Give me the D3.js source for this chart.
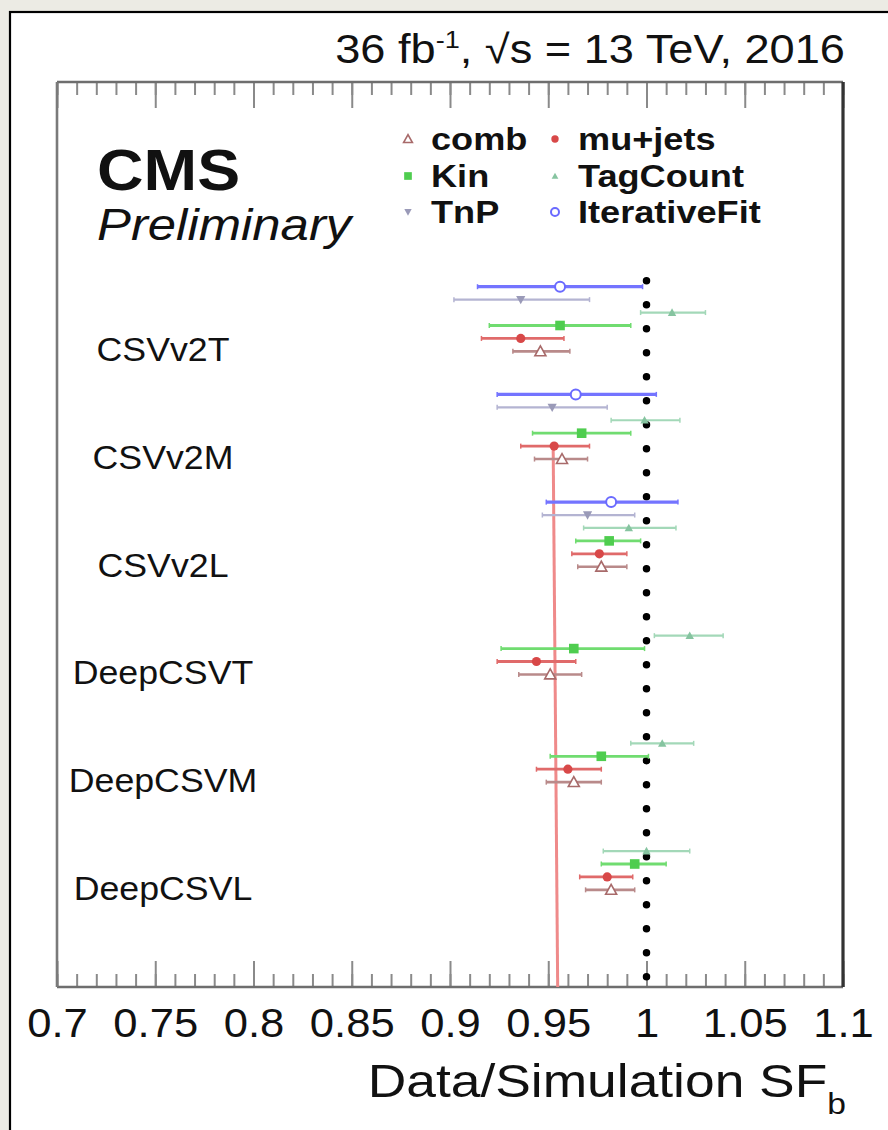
<!DOCTYPE html>
<html><head><meta charset="utf-8">
<script src="https://cdn.jsdelivr.net/npm/d3@7"></script>
<style>
html,body{margin:0;padding:0;background:#ecebe4;}
svg{display:block;font-family:"Liberation Sans",Arial,Helvetica,sans-serif;}
</style></head>
<body>
<svg id="chart" width="888" height="1130"></svg>
<script>
// ---------------- data ----------------
const categories = ["CSVv2T","CSVv2M","CSVv2L","DeepCSVT","DeepCSVM","DeepCSVL"];
const methods = ["IterativeFit","TnP","TagCount","Kin","mu+jets","comb"];
const legendOrder = ["comb","mu+jets","Kin","TagCount","TnP","IterativeFit"];

const iterativeFitSF = [0.956, 0.964, 0.982, null, null, null];
const iterativeFitLo = [0.914, 0.924, 0.949, null, null, null];
const iterativeFitHi = [0.998, 1.005, 1.016, null, null, null];

const tnpSF = [0.936, 0.952, 0.970, null, null, null];
const tnpLo = [0.902, 0.924, 0.947, null, null, null];
const tnpHi = [0.971, 0.980, 0.994, null, null, null];

const tagCountSF = [1.013, 0.999, 0.991, 1.022, 1.008, 1.000];
const tagCountLo = [0.997, 0.982, 0.968, 1.004, 0.992, 0.978];
const tagCountHi = [1.030, 1.017, 1.015, 1.039, 1.024, 1.022];

const kinSF = [0.956, 0.967, 0.981, 0.963, 0.977, 0.994];
const kinLo = [0.920, 0.942, 0.964, 0.926, 0.951, 0.977];
const kinHi = [0.992, 0.992, 0.997, 0.999, 1.001, 1.010];

const muJetsSF = [0.936, 0.953, 0.976, 0.944, 0.960, 0.980];
const muJetsLo = [0.916, 0.936, 0.962, 0.924, 0.944, 0.966];
const muJetsHi = [0.958, 0.971, 0.990, 0.964, 0.977, 0.993];

const combSF = [0.946, 0.957, 0.977, 0.951, 0.963, 0.982];
const combLo = [0.932, 0.943, 0.965, 0.935, 0.949, 0.969];
const combHi = [0.961, 0.970, 0.990, 0.967, 0.977, 0.994];

const refLineSF = [0.9525, 0.9548];   // red reference line (top, bottom)
const unityLine = 1.0;

const xDomain = [0.7, 1.1];
const majorTicks = [0.7, 0.75, 0.8, 0.85, 0.9, 0.95, 1, 1.05, 1.1];
const tickLabels = ["0.7","0.75","0.8","0.85","0.9","0.95","1","1.05","1.1"];

// ---------------- styles ----------------
const style = {
  "IterativeFit": {line:"#7474ff", mark:"#6a6aff", w:3.2, shape:"circleOpen"},
  "TnP":          {line:"#b4b4d2", mark:"#9a9ab8", w:2.2, shape:"triDown"},
  "TagCount":     {line:"#a3d8b8", mark:"#86c4a0", w:2.2, shape:"triUp"},
  "Kin":          {line:"#70dc70", mark:"#4fcd4f", w:2.8, shape:"square"},
  "mu+jets":      {line:"#e06a6a", mark:"#d84848", w:2.8, shape:"circle"},
  "comb":         {line:"#b98a8a", mark:"#a86a6a", w:2.6, shape:"triOpen"}
};
const seriesData = {
  "IterativeFit": [iterativeFitSF, iterativeFitLo, iterativeFitHi],
  "TnP": [tnpSF, tnpLo, tnpHi],
  "TagCount": [tagCountSF, tagCountLo, tagCountHi],
  "Kin": [kinSF, kinLo, kinHi],
  "mu+jets": [muJetsSF, muJetsLo, muJetsHi],
  "comb": [combSF, combLo, combHi]
};

// ---------------- layout ----------------
const frame = {left:57, right:843, top:82, bottom:987};
const SX = 1.13; // horizontal stretch of the text in the reference

const svg = d3.select("#chart");
svg.append("rect").attr("x",0).attr("y",0).attr("width",888).attr("height",1130).attr("fill","#ecebe4");
svg.append("rect").attr("x",10).attr("y",12).attr("width",890).attr("height",1130).attr("fill","#fff")
   .attr("stroke","#000").attr("stroke-width",2.2);

const x = d3.scaleLinear().domain(xDomain).range([frame.left, frame.right]);
const yCat = d3.scaleBand().domain(categories).range([280.2, 280.2 + 6*107.7]).padding(0);
const yRow = d3.scalePoint().domain(methods).range([6.5, 6.5 + 64.65]);
const yPos = (cat, m) => yCat(cat) + yRow(m);

function stext(g, txt, xPos, yPos_, size, opts={}) {
  return g.append("text")
    .attr("transform", `translate(${xPos},${yPos_}) scale(${opts.sx||SX},1)`)
    .attr("font-size", size)
    .attr("font-weight", opts.weight||"normal")
    .attr("font-style", opts.style||"normal")
    .attr("text-anchor", opts.anchor||"start")
    .attr("fill", "#111")
    .text(txt);
}

// ---------------- axes (ticks inward, top and bottom) ----------------
const minorTicks = x.ticks(40);
const tickColor = "#8a8a8a";
function drawTicks(axisFn, yTrans, values, size) {
  const g = svg.append("g").attr("transform", `translate(0,${yTrans})`)
    .call(axisFn(x).tickValues(values).tickSize(size).tickFormat(""));
  g.select(".domain").remove();
  g.selectAll(".tick line").attr("stroke", tickColor).attr("stroke-width", 2);
  return g;
}
drawTicks(d3.axisBottom, frame.bottom, minorTicks, -13);
drawTicks(d3.axisBottom, frame.bottom, majorTicks, -26);
drawTicks(d3.axisTop, frame.top, minorTicks, -13);
drawTicks(d3.axisTop, frame.top, majorTicks, -26);

const labAxis = svg.append("g").attr("transform", `translate(0,${frame.bottom})`)
  .call(d3.axisBottom(x).tickValues(majorTicks).tickSize(0).tickPadding(22)
        .tickFormat((d,i) => tickLabels[i]));
labAxis.select(".domain").remove();
labAxis.selectAll(".tick text")
  .attr("font-size", 40).attr("fill","#111")
  .attr("font-family", "'Liberation Sans',Arial,sans-serif")
  .attr("transform", `scale(1.09,1)`);

// frame
svg.append("line").attr("x1",frame.left).attr("x2",frame.right).attr("y1",frame.top).attr("y2",frame.top)
  .attr("stroke","#6e6e6e").attr("stroke-width",2.6);
svg.append("line").attr("x1",frame.left).attr("x2",frame.right).attr("y1",frame.bottom).attr("y2",frame.bottom)
  .attr("stroke","#6e6e6e").attr("stroke-width",2.6);
svg.append("line").attr("x1",frame.left).attr("x2",frame.left).attr("y1",frame.top).attr("y2",frame.bottom)
  .attr("stroke","#7a7a7a").attr("stroke-width",2.6);
svg.append("line").attr("x1",frame.right).attr("x2",frame.right).attr("y1",frame.top).attr("y2",frame.bottom)
  .attr("stroke","#333").attr("stroke-width",3.2);

// ---------------- reference lines ----------------
svg.append("line")
  .attr("x1", x(refLineSF[0])).attr("y1", yPos("CSVv2M","mu+jets"))
  .attr("x2", x(refLineSF[1])).attr("y2", frame.bottom)
  .attr("stroke", "#ef8a8a").attr("stroke-width", 3);

svg.append("line")
  .attr("x1", x(unityLine)).attr("x2", x(unityLine))
  .attr("y1", yCat(categories[0]) + 0.5).attr("y2", yCat(categories[0]) + 1.5 + 29*24)
  .attr("stroke","#000").attr("stroke-width",7.5)
  .attr("stroke-linecap","round").attr("stroke-dasharray","0,24");

// ---------------- markers ----------------
function drawMarker(g, shape, cx, cy, color, scale=1) {
  const s = scale;
  if (shape === "circleOpen") {
    g.append("circle").attr("cx",cx).attr("cy",cy).attr("r",5*s)
      .attr("fill","#fff").attr("stroke",color).attr("stroke-width",2);
  } else if (shape === "circle") {
    g.append("circle").attr("cx",cx).attr("cy",cy).attr("r",4.6*s).attr("fill",color);
  } else if (shape === "square") {
    g.append("rect").attr("x",cx-4.8*s).attr("y",cy-4.8*s).attr("width",9.6*s).attr("height",9.6*s).attr("fill",color);
  } else if (shape === "triUp") {
    const r = 4.2*s;
    g.append("path").attr("d",`M${cx},${cy-r} L${cx+r},${cy+r*0.8} L${cx-r},${cy+r*0.8} Z`).attr("fill",color);
  } else if (shape === "triDown") {
    const r = 4.6*s;
    g.append("path").attr("d",`M${cx},${cy+r} L${cx+r},${cy-r*0.8} L${cx-r},${cy-r*0.8} Z`).attr("fill",color);
  } else if (shape === "triOpen") {
    const r = 5.5*s;
    g.append("path").attr("d",`M${cx},${cy-r} L${cx+r},${cy+r*0.8} L${cx-r},${cy+r*0.8} Z`)
      .attr("fill","#fff").attr("stroke",color).attr("stroke-width",1.6);
  }
}

// ---------------- error bars ----------------
const gBars = svg.append("g");
methods.forEach(m => {
  const [c, lo, hi] = seriesData[m];
  const st = style[m];
  categories.forEach((cat, i) => {
    if (c[i] == null) return;
    const yy = yPos(cat, m);
    gBars.append("line").attr("x1", x(lo[i])).attr("x2", x(hi[i])).attr("y1", yy).attr("y2", yy)
      .attr("stroke", st.line).attr("stroke-width", st.w);
    [lo[i], hi[i]].forEach(v => {
      gBars.append("line").attr("x1", x(v)).attr("x2", x(v)).attr("y1", yy-2.5).attr("y2", yy+2.5)
        .attr("stroke", st.line).attr("stroke-width", 1.5);
    });
    drawMarker(gBars, st.shape, x(c[i]), yy, st.mark);
  });
});

// ---------------- category labels ----------------
const gLab = svg.append("g");
categories.forEach(cat => {
  stext(gLab, cat, 163, yCat(cat) + 81, 34, {anchor:"middle", sx:1.05});
});

// ---------------- legend ----------------
const gLeg = svg.append("g");
const legPos = {
  "comb":[408,139], "Kin":[408,176], "TnP":[408,212],
  "mu+jets":[555,139], "TagCount":[555,176], "IterativeFit":[555,212]
};
legendOrder.forEach(m => {
  const [lx, ly] = legPos[m];
  drawMarker(gLeg, style[m].shape, lx, ly, style[m].mark, 0.8);
  stext(gLeg, m, lx + 23, ly + 11, 32, {weight:"bold"});
});

// ---------------- titles ----------------
stext(svg, "CMS", 97, 190, 57, {weight:"bold"});
stext(svg, "Preliminary", 97, 240, 45, {style:"italic"});

const lum = svg.append("text")
  .attr("font-size", 40).attr("fill","#111").attr("text-anchor","end");
lum.append("tspan").text("36 fb");
lum.append("tspan").attr("font-size", 24).attr("dy", -15).text("-1");
lum.append("tspan").attr("dy", 15).text(", √s = 13 TeV, 2016");
lum.attr("transform", `translate(845,63) scale(1.13,1)`);

const xt = svg.append("text").attr("font-size", 46).attr("fill","#111").attr("text-anchor","end");
xt.append("tspan").text("Data/Simulation SF");
xt.append("tspan").attr("font-size", 29).attr("dy", 17).text("b");
xt.attr("transform", `translate(846,1097) scale(1.16,1)`);
</script>
</body></html>
